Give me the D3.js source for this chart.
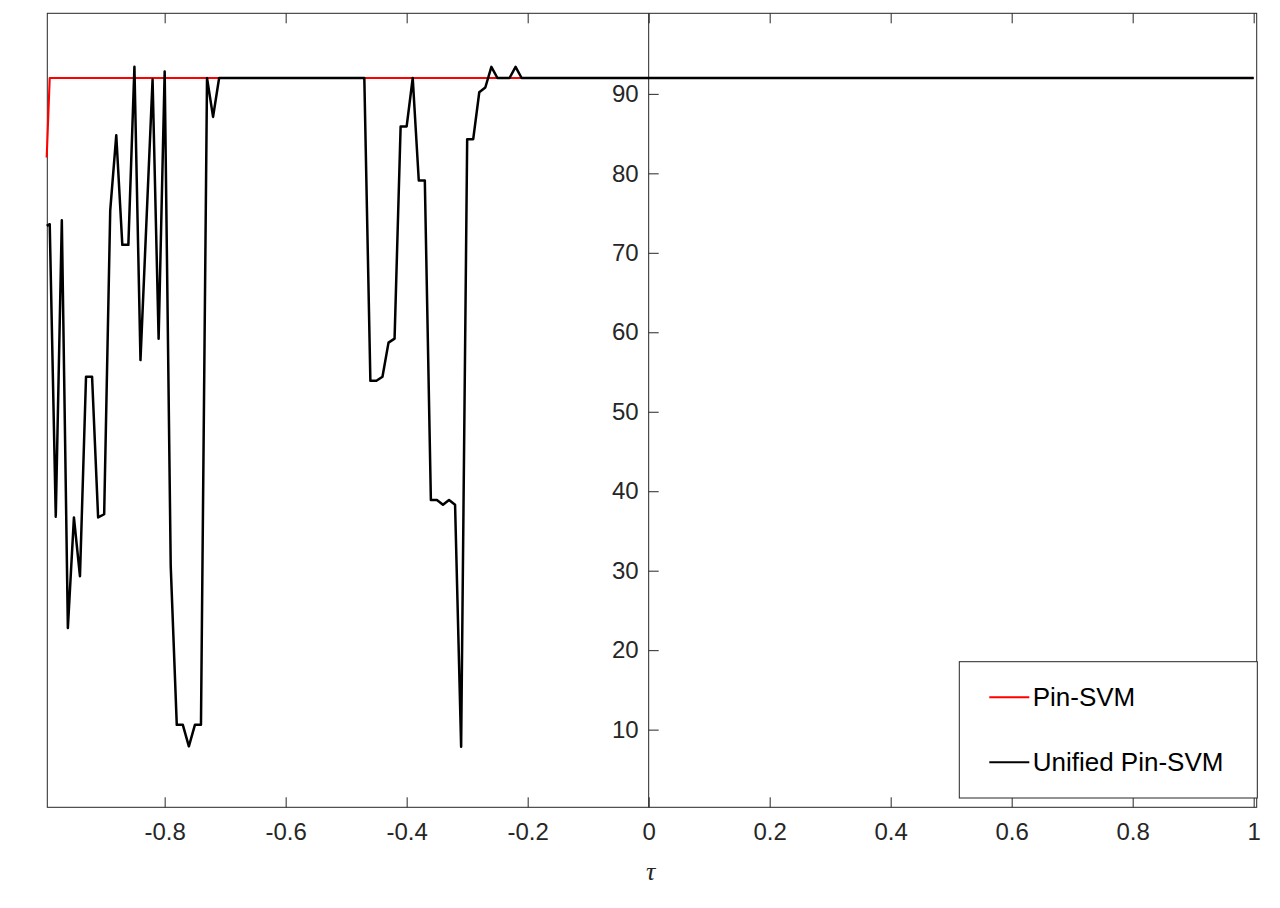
<!DOCTYPE html>
<html>
<head>
<meta charset="utf-8">
<script src="https://cdn.jsdelivr.net/npm/d3@7/dist/d3.min.js"></script>
<style>
  html, body { margin: 0; padding: 0; background: #ffffff; }
  svg { display: block; }
</style>
</head>
<body>
<svg id="chart" width="1280" height="908"></svg>
<script>
// ---------------- data ----------------
const seriesNames = ["Pin-SVM", "Unified Pin-SVM"];

const pinTau = [-0.995, -0.99, 1.0];
const pinAcc = [82.0, 92.0, 92.0];

const unifiedTau = [
  -0.995, -0.99, -0.98, -0.97, -0.96, -0.95, -0.94, -0.93, -0.92, -0.91,
  -0.90, -0.89, -0.88, -0.87, -0.86, -0.85, -0.84, -0.82, -0.81, -0.80,
  -0.79, -0.78, -0.77, -0.76, -0.75, -0.74, -0.73, -0.72, -0.71,
  -0.47, -0.46, -0.45, -0.44, -0.43, -0.42, -0.41, -0.40, -0.39, -0.38,
  -0.37, -0.36, -0.35, -0.34, -0.33, -0.32, -0.31, -0.30, -0.29, -0.28,
  -0.27, -0.26, -0.25, -0.24, -0.23, -0.22, -0.21, 1.0
];
const unifiedAcc = [
  73.4, 73.6, 36.8, 74.1, 22.8, 36.7, 29.3, 54.4, 54.4, 36.7,
  37.1, 75.3, 84.8, 71.0, 71.0, 93.4, 56.5, 91.8, 59.2, 92.8,
  30.6, 10.6, 10.6, 7.9, 10.6, 10.6, 92.0, 87.1, 92.0,
  92.0, 53.9, 53.9, 54.4, 58.7, 59.2, 85.9, 85.9, 92.0, 79.1,
  79.1, 38.9, 38.9, 38.3, 38.9, 38.3, 7.85, 84.3, 84.3, 90.2,
  90.8, 93.4, 92.0, 92.0, 92.0, 93.4, 92.0, 92.0
];

const xTicks = [-0.8, -0.6, -0.4, -0.2, 0, 0.2, 0.4, 0.6, 0.8, 1];
const xTickLabels = ["-0.8", "-0.6", "-0.4", "-0.2", "0", "0.2", "0.4", "0.6", "0.8", "1"];
const yTicks = [10, 20, 30, 40, 50, 60, 70, 80, 90];
const yTickLabels = ["10", "20", "30", "40", "50", "60", "70", "80", "90"];
const xLabel = "τ";

// ---------------- layout ----------------
const box = { left: 47.3, right: 1256.7, top: 13.3, bottom: 807.3 };
const axisColor = "#262626";
const font = "'Liberation Sans', Arial, Helvetica, sans-serif";

const svg = d3.select("#chart");
svg.append("rect").attr("width", 1280).attr("height", 908).attr("fill", "#fff");

const x = d3.scaleLinear().domain([-0.994, 1.005]).range([box.left, box.right]);
const y = d3.scaleLinear().domain([0, 100]).range([809.1, 14.4]);

// box
svg.append("rect")
  .attr("x", box.left).attr("y", box.top)
  .attr("width", box.right - box.left).attr("height", box.bottom - box.top)
  .attr("fill", "none").attr("stroke", axisColor).attr("stroke-width", 1);

// bottom axis
const xAxisBottom = d3.axisBottom(x)
  .tickValues(xTicks)
  .tickFormat((d, i) => xTickLabels[i])
  .tickSizeInner(-10).tickSizeOuter(0).tickPadding(16);
const gxb = svg.append("g").attr("transform", `translate(0,${box.bottom})`).call(xAxisBottom);
gxb.select(".domain").remove();
gxb.selectAll("line").attr("stroke", axisColor);
gxb.selectAll("text").attr("fill", axisColor).style("font-family", font).style("font-size", "24px");

// top axis ticks
const xAxisTop = d3.axisTop(x)
  .tickValues(xTicks).tickFormat("")
  .tickSizeInner(-10).tickSizeOuter(0);
const gxt = svg.append("g").attr("transform", `translate(0,${box.top})`).call(xAxisTop);
gxt.select(".domain").remove();
gxt.selectAll("line").attr("stroke", axisColor);

// y axis at origin
const yAxis = d3.axisLeft(y)
  .tickValues(yTicks)
  .tickFormat((d, i) => yTickLabels[i])
  .tickSizeInner(-10).tickSizeOuter(0).tickPadding(10);
const gy = svg.append("g").attr("transform", `translate(${x(0)},0)`).call(yAxis);
gy.select(".domain").remove();
gy.selectAll("line").attr("stroke", axisColor);
gy.selectAll("text").attr("fill", axisColor).style("font-family", font).style("font-size", "24px");
svg.append("line")
  .attr("x1", x(0)).attr("x2", x(0))
  .attr("y1", box.top).attr("y2", box.bottom)
  .attr("stroke", axisColor).attr("stroke-width", 1);

// x label
svg.append("text")
  .attr("x", x(0) + 2).attr("y", 880)
  .attr("text-anchor", "middle")
  .attr("fill", axisColor)
  .style("font-family", "'Liberation Serif', 'Times New Roman', serif")
  .style("font-style", "italic")
  .style("font-size", "26px")
  .text(xLabel);

// lines
const line = d3.line().x(d => x(d[0])).y(d => y(d[1]));
const pinData = pinTau.map((t, i) => [t, pinAcc[i]]);
const uniData = unifiedTau.map((t, i) => [t, unifiedAcc[i]]);

svg.append("path").datum(pinData)
  .attr("d", line).attr("fill", "none")
  .attr("stroke", "#ff0000").attr("stroke-width", 2.1)
  .attr("stroke-linejoin", "round");
svg.append("path").datum(uniData)
  .attr("d", line).attr("fill", "none")
  .attr("stroke", "#000000").attr("stroke-width", 2.5)
  .attr("stroke-linejoin", "round");

// legend
const lg = { x: 959.3, y: 661.7, w: 298, h: 136.3 };
svg.append("rect")
  .attr("x", lg.x).attr("y", lg.y).attr("width", lg.w).attr("height", lg.h)
  .attr("fill", "#fff").attr("stroke", axisColor).attr("stroke-width", 1);
const legendColors = ["#ff0000", "#000000"];
const legendRowY = [697.3, 762.3];
seriesNames.forEach((name, i) => {
  svg.append("line")
    .attr("x1", 989.3).attr("x2", 1029.3)
    .attr("y1", legendRowY[i]).attr("y2", legendRowY[i])
    .attr("stroke", legendColors[i]).attr("stroke-width", 2);
  svg.append("text")
    .attr("x", 1032.7).attr("y", legendRowY[i])
    .attr("dy", "0.35em")
    .attr("fill", "#000")
    .style("font-family", font).style("font-size", "26px")
    .text(name);
});
</script>
</body>
</html>
